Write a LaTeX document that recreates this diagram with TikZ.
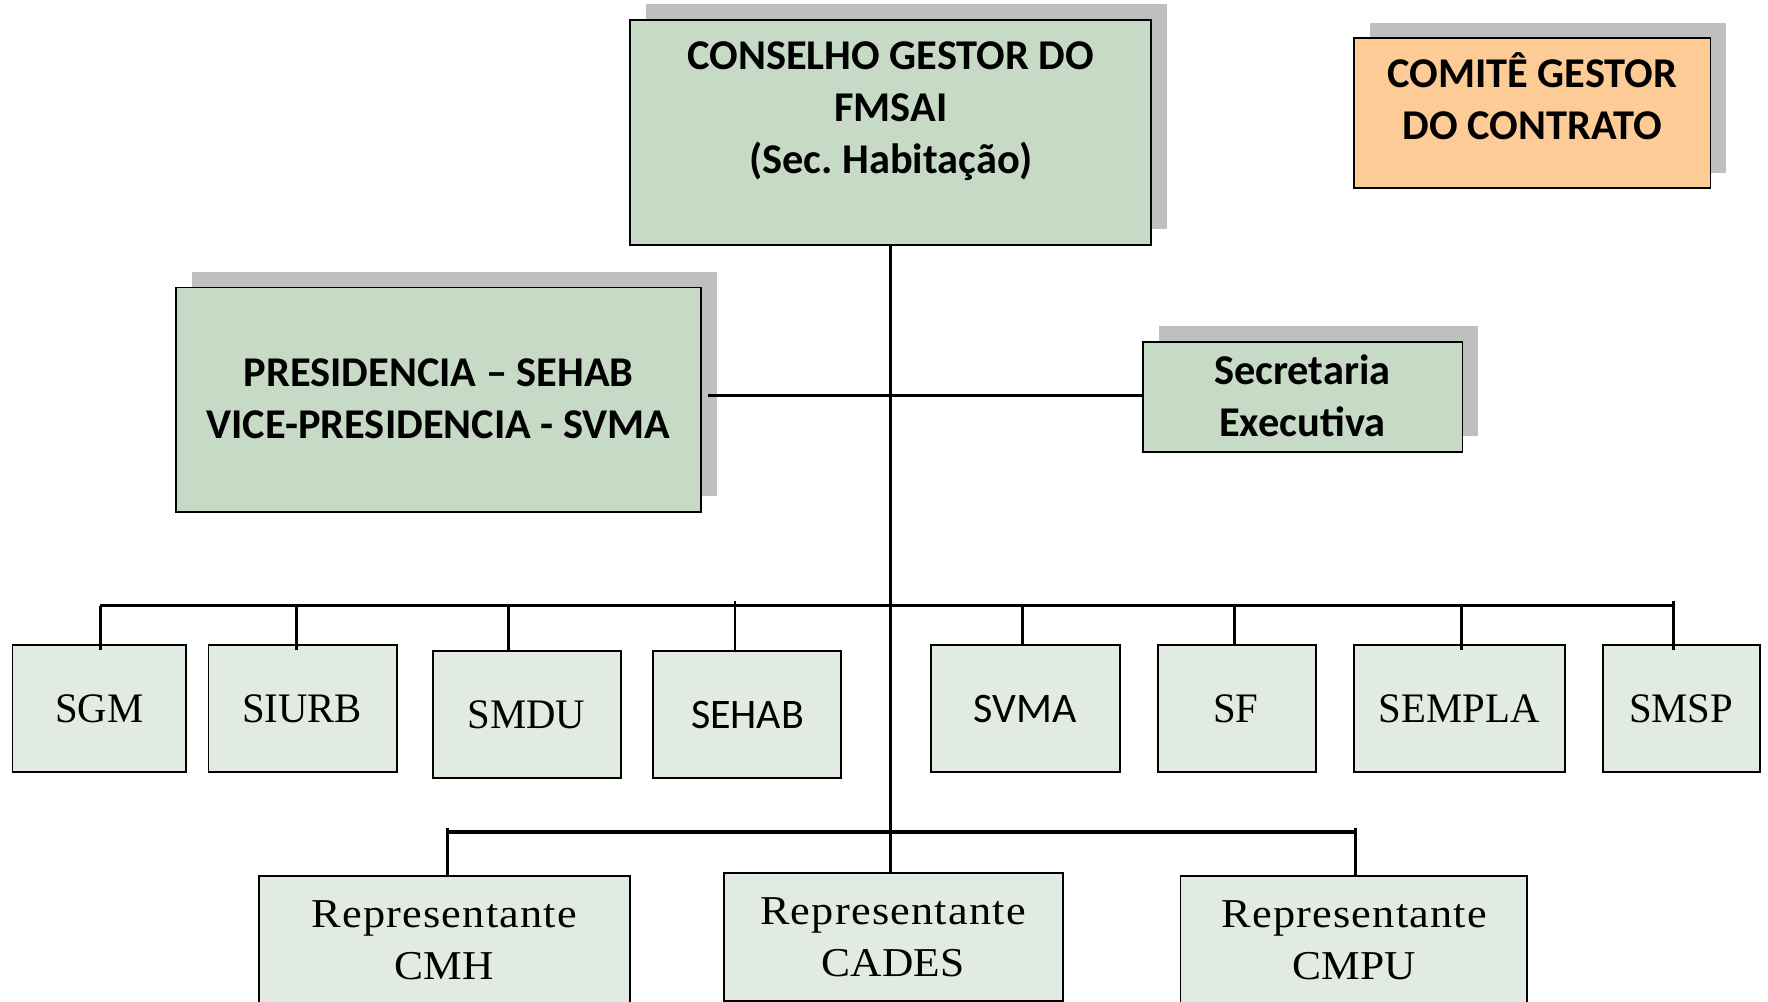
\documentclass[tikz,border=0pt]{standalone}
\usepackage{fontspec}
\setmainfont{Carlito}
\newfontfamily\rowserif[FakeStretch=0.97]{Liberation Serif}
\newfontfamily\repserif[FakeStretch=1.08,LetterSpace=3]{Liberation Serif}
\newfontfamily\repcaps[FakeStretch=1.06]{Liberation Serif}
\usetikzlibrary{fit,shadows}
\definecolor{headgreen}{HTML}{C6DAC6}
\definecolor{rowgreen}{HTML}{E2EBE2}
\definecolor{peach}{HTML}{FCCB96}
\definecolor{shadowgray}{HTML}{BFBFBF}
\frenchspacing
\begin{document}
\begin{tikzpicture}[x=1.1276pt,y=-1.1276pt,
  box/.style={draw=black, line width=1.8pt, inner sep=0pt, rectangle},
  headbox/.style={box, fill=headgreen},
  rowbox/.style={box, fill=rowgreen},
  shadowed/.style={drop shadow={shadow xshift=15.8pt, shadow yshift=15.8pt, fill=shadowgray, opacity=1}},
  titletxt/.style={font=\fontsize{42.4}{52}\bfseries\selectfont, align=center, anchor=base, inner sep=0pt},
  rowtxt/.style={font=\fontsize{42}{50}\rowserif\selectfont, anchor=base, inner sep=0pt},
  rowsans/.style={font=\fontsize{42}{50}\selectfont, anchor=base, inner sep=0pt},
  reptxt/.style={font=\fontsize{41}{52}\repserif\selectfont, align=center, anchor=base, inner sep=0pt},
  conn/.style={draw=black, line width=2.6pt},
  bus/.style={draw=black, line width=3.4pt}
]
\useasboundingbox (0,0) rectangle (1568,888.6);

% top boxes (text anchored at the baseline of its last line)
\node[headbox, shadowed, fit={(559,18) (1021,217)}] (cons) {};
\node[titletxt] (cons-t) at (790,154) {CONSELHO GESTOR DO\\FMSAI\\(Sec. Habitação)};

\node[box, fill=peach, shadowed, fit={(1201,34) (1517,167)}] (comite) {};
\node[titletxt] (comite-t) at (1359,124) {COMITÊ GESTOR\\DO CONTRATO};

\node[headbox, shadowed, fit={(156,255) (622,454)}] (pres) {};
\node[titletxt] (pres-t) at (389,389) {PRESIDENCIA – SEHAB\\VICE-PRESIDENCIA - SVMA};

\node[headbox, shadowed, fit={(1014,303) (1297,401)}] (sec) {};
\node[titletxt] (sec-t) at (1155,387) {Secretaria\\Executiva};

% row boxes
\node[rowbox, fit={(11,572) (165,685)}] (sgm) {};
\node[rowtxt] (sgm-t) at (88,641) {SGM};
\node[rowbox, fit={(185,572) (352,685)}] (siurb) {};
\node[rowtxt] (siurb-t) at (268,641) {SIURB};
\node[rowbox, fit={(384,577) (551,690)}] (smdu) {};
\node[rowtxt] (smdu-t) at (467,646) {SMDU};
\node[rowbox, fit={(579,577) (746,690)}] (sehab) {};
\node[rowsans] (sehab-t) at (663,646) {SEHAB};
\node[rowbox, fit={(826,572) (993,685)}] (svma) {};
\node[rowsans] (svma-t) at (909,641) {SVMA};
\node[rowbox, fit={(1027,572) (1167,685)}] (sf) {};
\node[rowtxt] (sf-t) at (1096,641) {SF};
\node[rowbox, fit={(1201,572) (1388,685)}] (sempla) {};
\node[rowtxt] (sempla-t) at (1294,641) {SEMPLA};
\node[rowbox, fit={(1422,572) (1561,685)}] (smsp) {};
\node[rowtxt] (smsp-t) at (1491,641) {SMSP};

% bottom boxes
\node[rowbox, fit={(230,777) (559,905)}] (cmh) {};
\node[reptxt] (cmh-t) at (394,869) {Representante\\{\repcaps CMH}};
\node[rowbox, fit={(642,774) (943,888)}] (cades) {};
\node[reptxt] (cades-t) at (792,866) {Representante\\{\repcaps CADES}};
\node[rowbox, fit={(1047,777) (1354,905)}] (cmpu) {};
\node[reptxt] (cmpu-t) at (1201,869) {Representante\\{\repcaps CMPU}};

% connectors
\coordinate (pl) at (628,351);
\draw[conn] (pl) -- (pl -| sec.west);
\draw[conn] (cons.south) -- (cons.south |- cades.north);

\coordinate (busL) at (89,537);
\coordinate (busR) at (1484,537);
\draw[bus] (busL) -- (busR);
\draw[conn] (busL) -- ([yshift=-5.6pt]busL |- sgm.north);
\draw[conn] (263,537) -- ([yshift=-5.6pt]263,537 |- siurb.north);
\draw[conn] (451,537) -- (451,537 |- smdu.north);
\draw[conn] (652,533) -- (652,533 |- sehab.north);
\draw[conn] (907,537) -- (907,537 |- svma.north);
\draw[conn] (1095,537) -- (1095,537 |- sf.north);
\draw[conn] (1296,537) -- ([yshift=-5.6pt]1296,537 |- sempla.north);
\draw[conn] (1484,533) -- ([yshift=-5.6pt]1484,533 |- smsp.north);

\coordinate (bbL) at (397,738);
\coordinate (bbR) at (1202,738);
\draw[bus] (bbL) -- (bbR);
\draw[conn] (397,734) -- (397,734 |- cmh.north);
\draw[conn] (1202,734) -- (1202,734 |- cmpu.north);
\end{tikzpicture}
\end{document}
